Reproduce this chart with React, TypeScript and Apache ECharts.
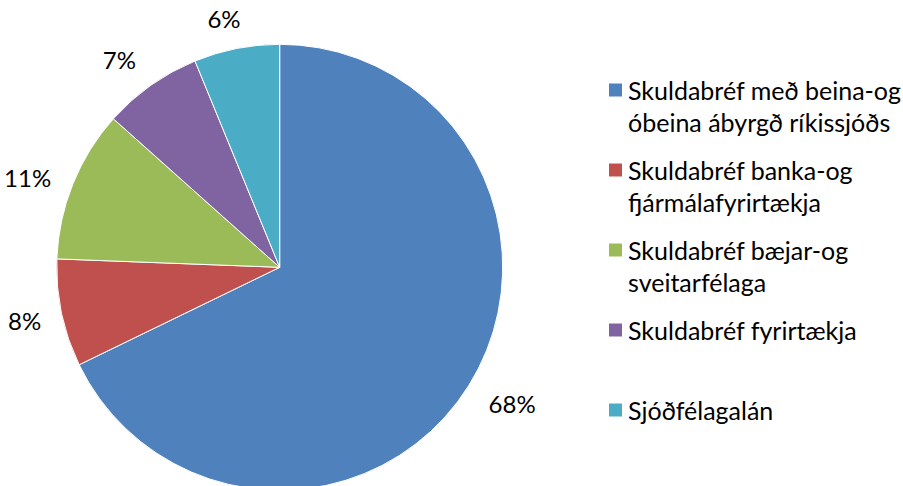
import React, { useEffect, useRef } from "react";
import * as echarts from "echarts";

const categories = [
  "Skuldabréf með beina-og óbeina ábyrgð ríkissjóðs",
  "Skuldabréf banka-og fjármálafyrirtækja",
  "Skuldabréf bæjar-og sveitarfélaga",
  "Skuldabréf fyrirtækja",
  "Sjóðfélagalán",
];
const legendLines = [
  ["Skuldabréf með beina-og", "óbeina ábyrgð ríkissjóðs"],
  ["Skuldabréf banka-og", "fjármálafyrirtækja"],
  ["Skuldabréf bæjar-og", "sveitarfélaga"],
  ["Skuldabréf fyrirtækja", ""],
  ["Sjóðfélagalán", ""],
];
const values = [67.8, 7.8, 11.0, 7.2, 6.2];
const colors = ["#4F81BD", "#C0504D", "#9BBB59", "#8064A2", "#4BACC6"];
// label placement tweaks per slice: [labelLine length, distance to line]
const labelOffsets = [
  [34, -9],
  [35, -14],
  [18, 5],
  [31, -3],
  [31, -10],
];

const FONT = "Lato, 'Open Sans', sans-serif";

export default function App() {
  const ref = useRef<HTMLDivElement>(null);
  useEffect(() => {
    if (!ref.current) return;
    const chart = echarts.init(ref.current, null, { renderer: "svg" });
    chart.setOption({
      animation: false,
      backgroundColor: "#ffffff",
      color: colors,
      legend: {
        orient: "vertical",
        left: 607,
        top: 42,
        padding: 0,
        itemWidth: 15,
        itemHeight: 15,
        itemGap: -16,
        icon: "rect",
        selectedMode: false,
        data: categories,
        formatter: (name: string) => {
          const i = categories.indexOf(name);
          const l = legendLines[i];
          return "\n" + l[0] + "\n" + l[1];
        },
        textStyle: {
          fontFamily: FONT,
          fontSize: 25,
          lineHeight: 32,
          color: "#000000",
        },
      },
      series: [
        {
          type: "pie",
          center: [279.7, 267.3],
          radius: 223,
          startAngle: 90,
          clockwise: true,
          avoidLabelOverlap: false,
          itemStyle: { borderColor: "#ffffff", borderWidth: 1 },
          label: {
            show: true,
            position: "outside",
            formatter: (p: any) => Math.round(p.percent) + "%",
            fontFamily: FONT,
            fontSize: 24,
            color: "#000000",
            distanceToLabelLine: 5,
          },
          labelLine: { show: false, length: 16, length2: 0 },
          emphasis: { disabled: true },
          data: categories.map((c, i) => ({
            name: c,
            value: values[i],
            label: { distanceToLabelLine: labelOffsets[i][1] },
            labelLine: { show: false, length: labelOffsets[i][0], length2: 0 },
          })),
        },
      ],
    });
    return () => chart.dispose();
  }, []);
  return (
    <div
      ref={ref}
      style={{ position: "fixed", left: 0, top: 0, width: 903, height: 486 }}
    />
  );
}
